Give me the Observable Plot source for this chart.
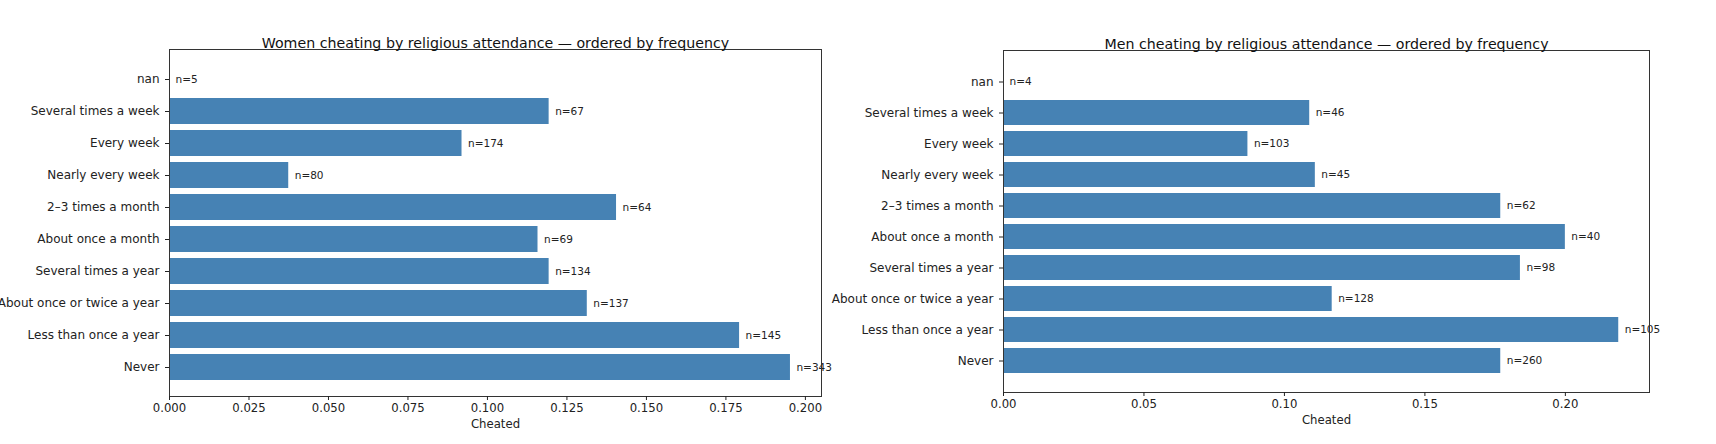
<!DOCTYPE html>
<html>
<head>
<meta charset="utf-8">
<script src="https://cdn.jsdelivr.net/npm/d3@7"></script>
<script src="https://cdn.jsdelivr.net/npm/@observablehq/plot@0.6"></script>
<style>
  html, body { margin: 0; padding: 0; background: white; }
  #wrap { display: flex; width: 1716px; height: 444px; overflow: hidden; }
  #wrap svg { overflow: visible; }
</style>
</head>
<body>
<div id="wrap"></div>
<script>
const categories = ["nan", "Several times a week", "Every week", "Nearly every week", "2–3 times a month", "About once a month", "Several times a year", "About once or twice a year", "Less than once a year", "Never"];

const womenRate = [0, 0.1194, 0.0920, 0.0375, 0.1406, 0.1159, 0.1194, 0.1314, 0.1793, 0.1953];
const womenN = [5, 67, 174, 80, 64, 69, 134, 137, 145, 343];

const menRate = [0, 0.109, 0.087, 0.111, 0.177, 0.200, 0.184, 0.117, 0.219, 0.177];
const menN = [4, 46, 103, 45, 62, 40, 98, 128, 105, 260];

const womenTicks = [0, 0.025, 0.05, 0.075, 0.1, 0.125, 0.15, 0.175, 0.2];
const menTicks = [0, 0.05, 0.1, 0.15, 0.2];

const womenTitle = "Women cheating by religious attendance — ordered by frequency";
const menTitle = "Men cheating by religious attendance — ordered by frequency";
const xLabel = "Cheated";

function panel(rates, ns, ticks, fmt, title, m) {
  const data = categories.map((c, i) => ({cat: c, rate: rates[i], n: ns[i]}));
  return Plot.plot({
    width: 858,
    height: 444,
    marginLeft: m.left,
    marginRight: m.right,
    marginTop: m.top,
    marginBottom: m.bottom,
    style: {fontFamily: "DejaVu Sans, sans-serif", color: "#222", background: "transparent", overflow: "visible"},
    x: {domain: [0, d3.max(rates) * 1.05]},
    y: {domain: categories, paddingInner: 0.2, paddingOuter: 0.49},
    marks: [
      Plot.barX(data, {x: "rate", y: "cat", fill: "#4682b4"}),
      Plot.text(data, {x: "rate", y: "cat", text: d => "n=" + d.n, textAnchor: "start", dx: 6, fontSize: 10.5, fill: "#222"}),
      Plot.frame({stroke: "#333", strokeWidth: 1}),
      Plot.axisY({tickSize: 4, tickPadding: 6, fontSize: 12, label: null}),
      Plot.axisX({ticks: ticks, tickFormat: d3.format(fmt), tickSize: 4, tickPadding: 3, fontSize: 11.7, label: null}),
      Plot.text([title], {frameAnchor: "top", dy: -12, text: d => d, fontSize: 14.2, fill: "#111"}),
      Plot.text([xLabel], {frameAnchor: "bottom", dy: 31, text: d => d, fontSize: 11.7, fill: "#222"})
    ]
  });
}

const wrap = document.getElementById("wrap");
wrap.append(panel(womenRate, womenN, womenTicks, ".3f", womenTitle, {left: 169, right: 37, top: 49, bottom: 48}));
wrap.append(panel(menRate, menN, menTicks, ".2f", menTitle, {left: 145, right: 67, top: 50, bottom: 52}));
</script>
</body>
</html>
